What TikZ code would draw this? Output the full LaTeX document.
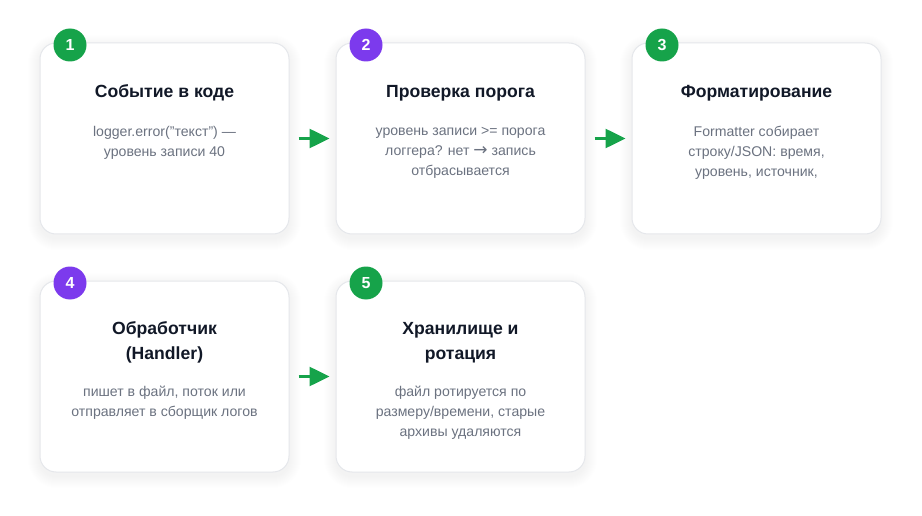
\documentclass[tikz,border=0pt]{standalone}
\usepackage{fontspec}
\setmainfont{Liberation Sans}
\newfontfamily\arrowfont{DejaVu Sans}
\usetikzlibrary{arrows.meta,positioning}
\definecolor{bggreen}{HTML}{16A34A}
\definecolor{bgpurple}{HTML}{7C3AED}
\definecolor{titlec}{HTML}{111827}
\definecolor{bodyc}{HTML}{6B7280}
\definecolor{cardborder}{HTML}{E5E7EB}
\tikzset{
  card/.style={draw=cardborder, line width=1pt, fill=white, rounded corners=16pt,
    minimum width=249pt, minimum height=191pt, inner sep=0pt},
  badge/.style={circle, minimum size=33pt, inner sep=0pt, text=white,
    font=\bfseries\fontsize{16}{16}\selectfont},
  ttl/.style={text=titlec, font=\bfseries\fontsize{17.6}{25}\selectfont, align=center, inner sep=0pt},
  bdy/.style={text=bodyc, font=\fontsize{14.1}{20}\selectfont, align=center, inner sep=0pt},
  flow/.style={draw=bggreen, line width=2.6pt, -{Triangle[length=20pt,width=19pt]},
    shorten <=9pt, shorten >=6pt},
}
\begin{document}
\begin{tikzpicture}[x=1pt,y=-1pt]
\useasboundingbox (0,0) rectangle (922,516);
\fill[white] (0,0) rectangle (922,516);
% shadows
\foreach \cx/\cy in {164.5/138.5, 460.5/138.5, 756.5/138.5, 164.5/376.5, 460.5/376.5}{
  \foreach \s in {1,2,...,12}{
    \fill[black, opacity=0.0045, rounded corners=16pt+\s pt]
      (\cx-124.5-\s, \cy-95.5-\s+4) rectangle (\cx+124.5+\s, \cy+95.5+\s+4);
  }
}
% cards
\node[card] (c1) at (164.5,138.5) {};
\node[card] (c2) at (460.5,138.5) {};
\node[card] (c3) at (756.5,138.5) {};
\node[card] (c4) at (164.5,376.5) {};
\node[card] (c5) at (460.5,376.5) {};
% badges
\node[badge, fill=bggreen] (b1) at (70,45) {1};
\node[badge, fill=bgpurple] (b2) at (366,45) {2};
\node[badge, fill=bggreen] (b3) at (662,45) {3};
\node[badge, fill=bgpurple] (b4) at (70,283) {4};
\node[badge, fill=bggreen] (b5) at (366,283) {5};
% titles
\node[ttl] (t1) at (164.5,93) {Событие в коде};
\node[ttl] (t2) at (460.5,93) {Проверка порога};
\node[ttl] (t3) at (756.5,93) {Форматирование};
\node[ttl] (t4) at (164.5,342.5) {Обработчик\\(Handler)};
\node[ttl] (t5) at (460.5,342.5) {Хранилище и\\ротация};
% bodies
\node[bdy] (d1) at (164.5,142.5) {logger.error("текст") —\\уровень записи 40};
\node[bdy] (d2) at (460.5,152.5) {уровень записи >= порога\\логгера? нет {\arrowfont\fontsize{17}{20}\selectfont →} запись\\отбрасывается};
\node[bdy] (d3) at (756.5,152.5) {Formatter собирает\\строку/JSON: время,\\уровень, источник,};
\node[bdy] (d4) at (164.5,403) {пишет в файл, поток или\\отправляет в сборщик логов};
\node[bdy] (d5) at (460.5,413) {файл ротируется по\\размеру/времени, старые\\архивы удаляются};
% arrows
\draw[flow] (c1.east) -- (c2.west);
\draw[flow] (c2.east) -- (c3.west);
\draw[flow] (c4.east) -- (c5.west);
\end{tikzpicture}
\end{document}
